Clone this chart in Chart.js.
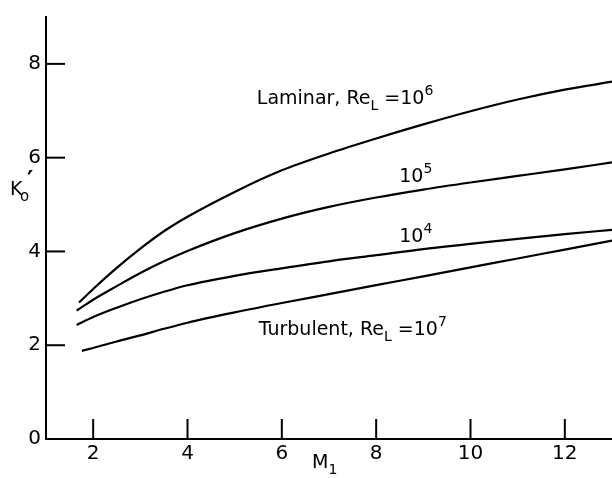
<!DOCTYPE html>
<html>
<head>
<meta charset="utf-8">
<script src="https://cdn.jsdelivr.net/npm/chart.js@4.4.1/dist/chart.umd.min.js"></script>
<style>
  html, body { margin: 0; padding: 0; background: #fff; }
  #wrap { width: 612px; height: 478px; }
</style>
</head>
<body>
<div id="wrap"><canvas id="c" width="612" height="478"></canvas></div>
<script>
// ---- data ----
const machGrid = [2, 2.5, 3, 3.5, 4, 5, 6, 7, 8, 9, 10, 11, 12, 13];
const startMach = [1.70, 1.65, 1.65, 1.76];
const startK = [2.91, 2.74, 2.43, 1.88];
const laminar1e6 = [3.20, 3.65, 4.06, 4.43, 4.74, 5.27, 5.73, 6.09, 6.41, 6.71, 6.99, 7.24, 7.45, 7.62];
const laminar1e5 = [2.97, 3.26, 3.54, 3.79, 4.01, 4.39, 4.70, 4.95, 5.15, 5.32, 5.47, 5.61, 5.75, 5.90];
const laminar1e4 = [2.60, 2.80, 2.98, 3.14, 3.28, 3.48, 3.64, 3.79, 3.92, 4.05, 4.16, 4.27, 4.37, 4.46];
const turbulent1e7 = [1.94, 2.08, 2.21, 2.35, 2.48, 2.70, 2.90, 3.09, 3.28, 3.47, 3.66, 3.85, 4.04, 4.23];
const xTicks = [2, 4, 6, 8, 10, 12];
const yTicks = [0, 2, 4, 6, 8];

// curve labels: text runs and their left/middle anchor in data units (M, K)
const curveLabels = [
  { runs: [{t: 'Laminar, Re'}, {t: 'L', sub: true}, {t: ' =10'}, {t: '6', sup: true}], m: 5.47, k: 7.25 },
  { runs: [{t: '10'}, {t: '5', sup: true}], m: 8.49, k: 5.58 },
  { runs: [{t: '10'}, {t: '4', sup: true}], m: 8.49, k: 4.31 },
  { runs: [{t: 'Turbulent, Re'}, {t: 'L', sub: true}, {t: ' =10'}, {t: '7', sup: true}], m: 5.51, k: 2.32 }
];

const FONT = '"DejaVu Sans", sans-serif';
const FS = 19;
const TICK_FS = 20;

function buildSeries(i, vals) {
  const pts = [{x: startMach[i], y: startK[i]}];
  machGrid.forEach((m, j) => pts.push({x: m, y: vals[j]}));
  return pts;
}

function drawRuns(ctx, runs, x, y, size) {
  let cx = x;
  ctx.textBaseline = 'middle';
  ctx.textAlign = 'left';
  runs.forEach(r => {
    const s = (r.sub || r.sup) ? size * 0.74 : size;
    ctx.font = s + 'px ' + FONT;
    let dy = 0;
    if (r.sub) dy = size * 0.40;
    if (r.sup) dy = -size * 0.42;
    ctx.fillText(r.t, cx, y + dy);
    cx += ctx.measureText(r.t).width;
  });
}

const annotatePlugin = {
  id: 'annotate',
  afterDraw(chart) {
    const ctx = chart.ctx;
    const xs = chart.scales.x, ys = chart.scales.y;
    const area = chart.chartArea;
    ctx.save();
    ctx.strokeStyle = '#000';
    ctx.lineWidth = 2;
    // inward tick marks
    yTicks.forEach(v => {
      if (v === 0) return;
      const py = ys.getPixelForValue(v);
      ctx.beginPath(); ctx.moveTo(area.left, py); ctx.lineTo(area.left + 19, py); ctx.stroke();
    });
    xTicks.forEach(v => {
      const px = xs.getPixelForValue(v);
      ctx.beginPath(); ctx.moveTo(px, area.bottom); ctx.lineTo(px, area.bottom - 20); ctx.stroke();
    });
    ctx.fillStyle = '#000';
    curveLabels.forEach(l => {
      drawRuns(ctx, l.runs, xs.getPixelForValue(l.m), ys.getPixelForValue(l.k), FS);
    });
    // axis titles
    ctx.textBaseline = 'middle';
    ctx.font = FS + 'px ' + FONT;
    ctx.fillText('K', 10, 190);
    ctx.font = Math.round(FS * 0.8) + 'px ' + FONT;
    ctx.fillText('o', 20, 197);
    ctx.font = 'bold 24px ' + FONT;
    ctx.fillText('\u2032', 27, 182);
    drawRuns(ctx, [{t: 'M'}, {t: '1', sub: true}], 312, 463, FS);
    ctx.restore();
  }
};

const mk = (label, i, vals) => ({
  label, data: buildSeries(i, vals),
  borderColor: '#000', borderWidth: 2.2, pointRadius: 0,
  cubicInterpolationMode: 'monotone', fill: false
});

new Chart(document.getElementById('c'), {
  type: 'line',
  data: {
    datasets: [
      mk('Laminar 1e6', 0, laminar1e6),
      mk('1e5', 1, laminar1e5),
      mk('1e4', 2, laminar1e4),
      mk('Turbulent 1e7', 3, turbulent1e7)
    ]
  },
  options: {
    responsive: false,
    animation: false,
    layout: { padding: { top: 9, right: 0, left: 0, bottom: 0 } },
    plugins: { legend: { display: false }, tooltip: { enabled: false } },
    scales: {
      x: {
        type: 'linear', min: 1, max: 13,
        afterBuildTicks: s => { s.ticks = xTicks.map(v => ({value: v})); },
        afterFit: s => { s.height = 39; },
        grid: { drawOnChartArea: false, drawTicks: false },
        border: { color: '#000', width: 2 },
        ticks: { color: '#000', padding: 3, maxRotation: 0, font: { family: FONT, size: TICK_FS } }
      },
      y: {
        type: 'linear', min: 0, max: 9,
        afterBuildTicks: s => { s.ticks = yTicks.map(v => ({value: v})); },
        afterFit: s => { s.width = 46; },
        grid: { drawOnChartArea: false, drawTicks: false },
        border: { color: '#000', width: 2 },
        ticks: { color: '#000', padding: 5, font: { family: FONT, size: TICK_FS } }
      }
    }
  },
  plugins: [annotatePlugin]
});
</script>
</body>
</html>
